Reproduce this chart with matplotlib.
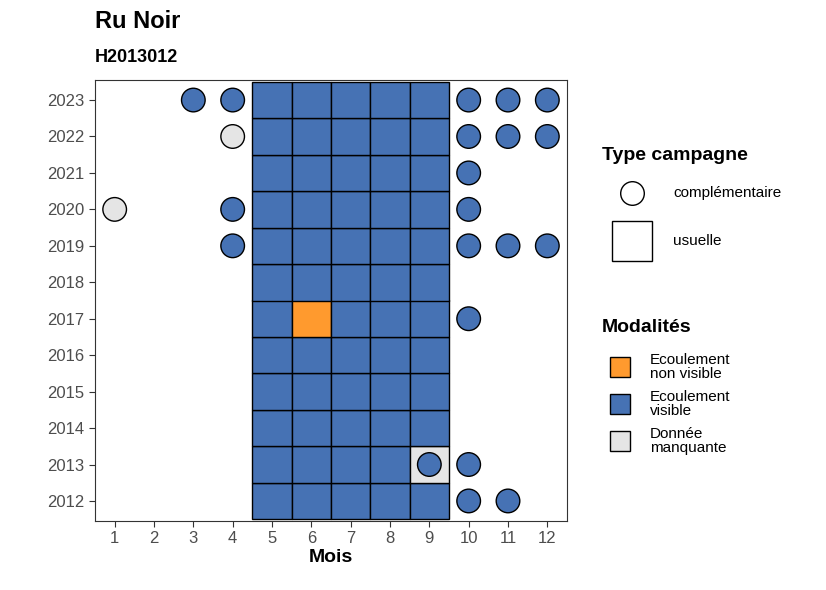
import matplotlib.pyplot as plt
from matplotlib.patches import Rectangle
from matplotlib.lines import Line2D

# Données
MOIS = list(range(1, 13))
ANNEES = list(range(2012, 2024))
COULEURS = {"Ecoulement\nnon visible": "#FF9A2E",
            "Ecoulement\nvisible": "#4672B4",
            "Donnée\nmanquante": "#E5E5E5"}

# campagnes usuelles: mois 5-9 de chaque année
tuile_mois = [5, 6, 7, 8, 9]
tuile_exceptions = {(2017, 6): "Ecoulement\nnon visible", (2013, 9): "Donnée\nmanquante"}

# campagnes complémentaires (année, mois, modalité)
comp_annee = [2023, 2023, 2023, 2023, 2023, 2022, 2022, 2022, 2022, 2021,
              2020, 2020, 2020, 2019, 2019, 2019, 2019, 2017, 2013, 2013, 2012, 2012]
comp_mois = [3, 4, 10, 11, 12, 4, 10, 11, 12, 10,
             1, 4, 10, 4, 10, 11, 12, 10, 9, 10, 10, 11]
comp_modalite = ["Ecoulement\nvisible"] * 22
comp_modalite[5] = "Donnée\nmanquante"
comp_modalite[10] = "Donnée\nmanquante"

plt.rcParams["font.family"] = ["Liberation Sans", "DejaVu Sans"]
fig = plt.figure(figsize=(8.26, 5.9), dpi=100)
ax = fig.add_axes([95 / 826, 1 - 521 / 590, 472 / 826, 441 / 590])

for an in ANNEES:
    for m in tuile_mois:
        mod = tuile_exceptions.get((an, m), "Ecoulement\nvisible")
        ax.add_patch(Rectangle((m - 0.5, an - 0.5), 1, 1, facecolor=COULEURS[mod],
                               edgecolor="black", lw=1, zorder=2))

ax.scatter(comp_mois, comp_annee, s=17 ** 2, c=[COULEURS[c] for c in comp_modalite],
           edgecolors="black", linewidths=1, zorder=3)

ax.set_xlim(0.5, 12.5)
ax.set_ylim(2011.45, 2023.55)
ax.set_xticks(MOIS)
ax.set_yticks(ANNEES)
ax.tick_params(labelsize=12, colors="#333333", length=4)
for lab in ax.get_xticklabels() + ax.get_yticklabels():
    lab.set_color("#4D4D4D")
ax.set_xlabel("Mois", fontsize=14, fontweight="bold", labelpad=2)
for s in ax.spines.values():
    s.set_color("#333333")

fig.text(95 / 826, 1 - 21 / 590, "Ru Noir", fontsize=17, fontweight="bold", va="center")
fig.text(95 / 826, 1 - 57 / 590, "H2013012", fontsize=13, fontweight="bold", va="center")

# Légende manuelle
def fx(x):
    return x / 826

def fy(y):
    return 1 - y / 590

fig.text(fx(602), fy(155), "Type campagne", fontsize=14, fontweight="bold", va="center")
fig.add_artist(Line2D([fx(632)], [fy(193)], marker="o", markersize=17, markerfacecolor="white",
                      markeredgecolor="black", transform=fig.transFigure))
fig.text(fx(673), fy(193), "complémentaire", fontsize=11, va="center")
fig.add_artist(Rectangle((fx(612), fy(261)), fx(40), 40 / 590, facecolor="white",
                         edgecolor="black", lw=1, transform=fig.transFigure))
fig.text(fx(673), fy(241), "usuelle", fontsize=11, va="center")

fig.text(fx(602), fy(328), "Modalités", fontsize=14, fontweight="bold", va="center")
for i, (lab, col) in enumerate(COULEURS.items()):
    yc = 367 + i * 37
    fig.add_artist(Rectangle((fx(610), fy(yc + 10)), fx(20), 20 / 590, facecolor=col,
                             edgecolor="black", lw=1, transform=fig.transFigure))
    fig.text(fx(650), fy(yc), lab, fontsize=11, va="center", linespacing=0.95)

fig.savefig("out.png", dpi=100)
